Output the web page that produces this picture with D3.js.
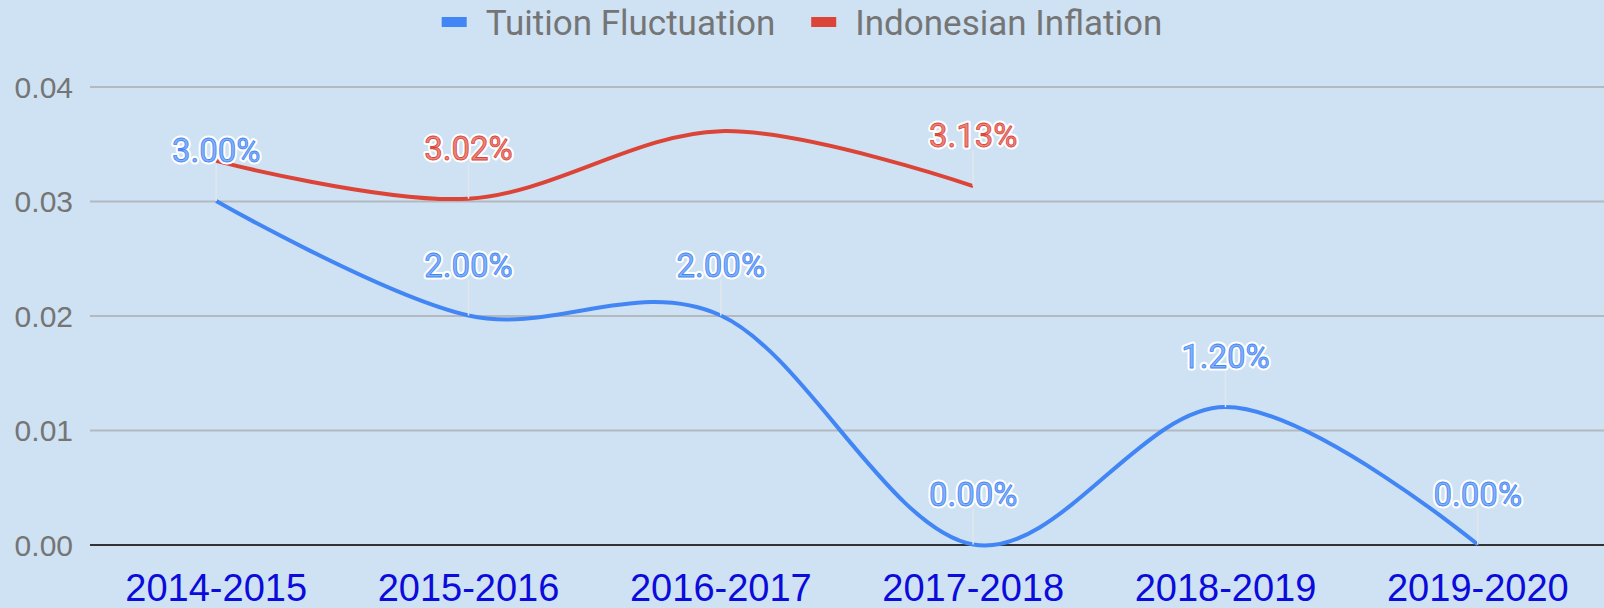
<!DOCTYPE html>
<html lang="en">
<head>
    <meta charset="UTF-8">
    <title>Tuition Fluctuation vs Indonesian Inflation</title>
    <script src="https://d3js.org/d3.v7.min.js"></script>
    <style>
        body { margin: 0; background: #cfe2f3; }
        svg { display: block; font-family: Roboto, "Noto Sans", sans-serif; }
    </style>
</head>
<body>
    <div id="chart"></div>

    <script>
        // data
        const categories = ["2014-2015", "2015-2016", "2016-2017", "2017-2018", "2018-2019", "2019-2020"];
        const tuition = [0.03, 0.02, 0.02, 0.00, 0.012, 0.00];
        const inflation = [0.0335, 0.0302, 0.0361, 0.0313];
        // Google hid some annotations where they collided
        const tuitionLabelShown = [true, true, true, true, true, true];
        const inflationLabelShown = [false, true, false, true];
        const yTicks = [0, 0.01, 0.02, 0.03, 0.04];
        const seriesNames = ["Tuition Fluctuation", "Indonesian Inflation"];
        const seriesColors = ["#4285f4", "#db4437"];

        const W = 1604, H = 608;
        const margin = { top: 86.5, right: 0, bottom: 63.5, left: 90 };

        const svg = d3.select("#chart")
                      .append("svg")
                      .attr("width", W)
                      .attr("height", H);

        svg.append("rect")
           .attr("width", W)
           .attr("height", H)
           .attr("fill", "#cfe2f3");

        const x = d3.scaleBand()
                    .domain(categories)
                    .range([margin.left, W - margin.right]);

        const y = d3.scaleLinear()
                    .domain([0, 0.04])
                    .range([H - margin.bottom, margin.top]);

        // y axis + gridlines
        const yAxis = svg.append("g")
                         .attr("transform", `translate(${margin.left},0)`)
                         .call(d3.axisLeft(y)
                                 .tickValues(yTicks)
                                 .tickFormat(d3.format(".2f"))
                                 .tickSize(-(W - margin.left - margin.right))
                                 .tickPadding(17));
        yAxis.select(".domain").remove();
        yAxis.selectAll(".tick line")
             .attr("stroke", d => d === 0 ? "#333" : "#b3b9bf")
             .attr("stroke-width", 2);
        yAxis.selectAll(".tick text")
             .attr("fill", "#757575")
             .attr("font-size", 30)
             .attr("dy", "0.36em");

        // x axis labels
        const xAxis = svg.append("g")
                         .attr("transform", `translate(0,${H - margin.bottom})`)
                         .call(d3.axisBottom(x).tickSize(0).tickPadding(0));
        xAxis.select(".domain").remove();
        xAxis.selectAll(".tick text")
             .attr("fill", "#0b0bdc")
             .attr("font-size", 38)
             .attr("y", 56)
             .attr("dy", 0);

        const cx = (d, i) => x(categories[i]) + x.bandwidth() / 2;

        const line = d3.line()
                       .x((d, i) => cx(d, i))
                       .y(d => y(d))
                       .curve(d3.curveCardinal.tension(0));

        const series = [
            { values: tuition, shown: tuitionLabelShown, color: seriesColors[0] },
            { values: inflation, shown: inflationLabelShown, color: seriesColors[1] }
        ];

        series.forEach(s => {
            svg.append("path")
               .datum(s.values)
               .attr("d", line)
               .attr("fill", "none")
               .attr("stroke", s.color)
               .attr("stroke-width", 4)
               .attr("stroke-linejoin", "round");
        });

        // annotations: stem + label above each point
        const fmt = d3.format(".2%");
        const stem = 36;
        series.forEach(s => {
            const pts = s.values.map((v, i) => ({ v, i })).filter(p => s.shown[p.i]);
            const g = svg.append("g");
            g.selectAll("line")
             .data(pts)
             .enter()
             .append("line")
             .attr("x1", p => cx(p.v, p.i))
             .attr("x2", p => cx(p.v, p.i))
             .attr("y1", p => y(p.v))
             .attr("y2", p => y(p.v) - stem)
             .attr("stroke", "#e2e6ea")
             .attr("stroke-width", 1.5);

            // white halo first, then an outlined glyph with a lighter fill
            const light = d3.interpolateRgb(s.color, "#ffffff")(0.35);
            [["#ffffff", 5, "#ffffff"], [s.color, 0.8, light]].forEach(([st, sw, fill]) => {
                g.selectAll(null)
                 .data(pts)
                 .enter()
                 .append("text")
                 .attr("x", p => cx(p.v, p.i))
                 .attr("y", p => y(p.v) - stem - 3)
                 .attr("text-anchor", "middle")
                 .attr("font-size", 33)
                 .attr("fill", fill)
                 .attr("stroke", st)
                 .attr("stroke-width", sw)
                 .attr("stroke-linejoin", "round")
                 .text(p => fmt(p.v));
            });
        });

        // legend, centred at the top
        const legend = svg.append("g");
        const items = legend.selectAll("g")
                            .data(seriesNames)
                            .enter()
                            .append("g");
        items.append("rect")
             .attr("width", 25)
             .attr("height", 10)
             .attr("y", 17)
             .attr("fill", (d, i) => seriesColors[i]);
        items.append("text")
             .attr("x", 44)
             .attr("y", 35)
             .attr("font-size", 35)
             .attr("fill", "#757575")
             .text(d => d);
        let offset = 0;
        items.each(function () {
            const tw = d3.select(this).select("text").node().getComputedTextLength();
            d3.select(this).attr("transform", `translate(${offset},0)`);
            offset += 44 + tw + 36;
        });
        const total = offset - 36;
        legend.attr("transform", `translate(${(W - total) / 2},0)`);
    </script>
</body>
</html>
